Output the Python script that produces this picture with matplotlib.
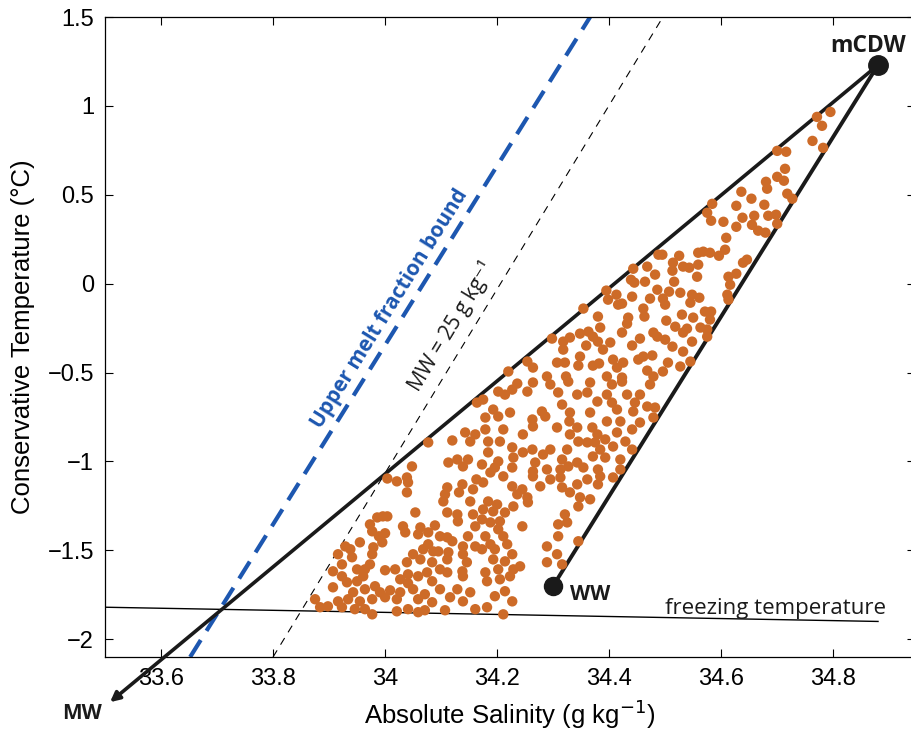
import matplotlib
matplotlib.use("Agg")
import matplotlib.pyplot as plt
import numpy as np

# ---------------- data ----------------
# end members (Absolute Salinity g/kg, Conservative Temperature degC)
mcdw_S, mcdw_T = 34.88, 1.23
ww_S, ww_T = 34.30, -1.70
mw_tip_S, mw_tip_T = 33.509, -2.354

# reference lines: two points each
upper_bound_S = [33.652, 34.366]
upper_bound_T = [-2.10, 1.50]
mw25_S = [33.80, 34.496]
mw25_T = [-2.10, 1.50]
freeze_S = [33.50, 34.88]
freeze_T = [-1.82, -1.90]

xticks = [33.6, 33.8, 34.0, 34.2, 34.4, 34.6, 34.8]
xticklabels = ["33.6", "33.8", "34", "34.2", "34.4", "34.6", "34.8"]
yticks = [-2, -1.5, -1, -0.5, 0, 0.5, 1, 1.5]
yticklabels = ["\u22122", "\u22121.5", "\u22121", "\u22120.5", "0", "0.5", "1", "1.5"]

# observations, upper (warm) part of the triangle
obs_upper = [
    (34.795, 0.966), (34.771, 0.938), (34.780, 0.888), (34.763, 0.803), (34.782, 0.764),
    (34.700, 0.747), (34.716, 0.742), (34.714, 0.646), (34.700, 0.601), (34.712, 0.579),
    (34.680, 0.573), (34.682, 0.534), (34.636, 0.517), (34.718, 0.506), (34.727, 0.478),
    (34.654, 0.478), (34.584, 0.449), (34.627, 0.438), (34.677, 0.444), (34.575, 0.399),
    (34.659, 0.382), (34.638, 0.371), (34.684, 0.382), (34.698, 0.388), (34.582, 0.354),
    (34.604, 0.348), (34.655, 0.331), (34.700, 0.337), (34.627, 0.320), (34.666, 0.298),
    (34.679, 0.287), (34.609, 0.258), (34.607, 0.191), (34.568, 0.180), (34.559, 0.174),
    (34.580, 0.174), (34.596, 0.157), (34.525, 0.157), (34.495, 0.163), (34.646, 0.135),
    (34.639, 0.118), (34.514, 0.118), (34.532, 0.096), (34.543, 0.090), (34.559, 0.107),
    (34.513, 0.073), (34.557, 0.039), (34.613, 0.039), (34.627, 0.056), (34.516, 0.011),
    (34.616, -0.006), (34.507, -0.045), (34.527, -0.051), (34.548, -0.062), (34.561, -0.079),
    (34.611, -0.062), (34.496, -0.084), (34.613, -0.090), (34.545, -0.107), (34.500, -0.118),
    (34.571, -0.157), (34.582, -0.157), (34.530, -0.174), (34.550, -0.191), (34.502, -0.208),
    (34.580, -0.202), (34.518, -0.242), (34.539, -0.253), (34.563, -0.247), (34.575, -0.258),
    (34.532, -0.275), (34.575, -0.298), (34.500, -0.315), (34.548, -0.326), (34.513, -0.354),
    (34.532, -0.382), (34.505, -0.444), (34.545, -0.438), (34.527, -0.466), (34.496, -0.494),
]

obs_middle = [
    (34.488, 0.163), (34.443, 0.084), (34.468, 0.096), (34.482, 0.051), (34.439, 0.022),
    (34.445, 0.006), (34.464, 0.011), (34.486, -0.034), (34.395, -0.039), (34.413, -0.062),
    (34.441, -0.073), (34.473, -0.084), (34.398, -0.090), (34.416, -0.118), (34.354, -0.140),
    (34.461, -0.140), (34.423, -0.112), (34.463, -0.185), (34.380, -0.185), (34.434, -0.191),
    (34.432, -0.225), (34.384, -0.247), (34.479, -0.275), (34.348, -0.281), (34.363, -0.270),
    (34.423, -0.275), (34.298, -0.309), (34.330, -0.303), (34.371, -0.298), (34.455, -0.309),
    (34.486, -0.298), (34.318, -0.326), (34.359, -0.348), (34.380, -0.326), (34.402, -0.331),
    (34.441, -0.348), (34.389, -0.371), (34.318, -0.371), (34.461, -0.410), (34.348, -0.410),
    (34.407, -0.427), (34.477, -0.404), (34.254, -0.438), (34.307, -0.444), (34.321, -0.444),
    (34.264, -0.472), (34.345, -0.461), (34.371, -0.461), (34.425, -0.444), (34.452, -0.427),
    (34.382, -0.449), (34.414, -0.472), (34.468, -0.489), (34.220, -0.494), (34.289, -0.522),
    (34.323, -0.522), (34.396, -0.522), (34.423, -0.528), (34.479, -0.522),
]

obs_lower_left = [
    (34.164, -0.669), (34.143, -0.837), (34.161, -0.848), (34.152, -0.888), (34.120, -0.882),
    (34.077, -0.893), (34.129, -0.989), (34.148, -0.989), (34.113, -1.006), (34.139, -1.028),
    (34.048, -1.028), (34.163, -1.101), (34.004, -1.096), (34.021, -1.112), (34.039, -1.090),
    (34.041, -1.118), (34.138, -1.129), (34.111, -1.146), (34.039, -1.174), (34.107, -1.185),
    (34.157, -1.157), (34.132, -1.174), (34.104, -1.225), (34.152, -1.225), (34.054, -1.287),
    (34.111, -1.287), (34.129, -1.298), (33.996, -1.309), (33.986, -1.315), (34.004, -1.309),
    (34.157, -1.298), (34.130, -1.337), (33.973, -1.354), (34.032, -1.365), (34.089, -1.360),
    (34.063, -1.371), (34.161, -1.365), (33.977, -1.393), (34.000, -1.404), (34.036, -1.399),
    (34.077, -1.399), (33.989, -1.421), (34.059, -1.410), (34.098, -1.421), (34.148, -1.421),
    (34.111, -1.427), (34.120, -1.449), (33.929, -1.478), (33.955, -1.455), (33.995, -1.455),
    (34.077, -1.466), (34.161, -1.478), (34.139, -1.478), (33.938, -1.494), (33.979, -1.483),
    (34.068, -1.494), (34.086, -1.506), (34.095, -1.506), (33.977, -1.522), (34.113, -1.511),
    (33.916, -1.522), (34.050, -1.522), (33.941, -1.539), (34.139, -1.522), (34.111, -1.551),
    (34.063, -1.551), (34.039, -1.567), (34.146, -1.567), (33.923, -1.579), (33.973, -1.579),
    (34.084, -1.567), (33.950, -1.607), (33.964, -1.607), (34.000, -1.612), (34.018, -1.607),
    (34.098, -1.607), (34.138, -1.618), (33.907, -1.618), (34.111, -1.624), (34.075, -1.624),
    (34.041, -1.635), (33.961, -1.646), (33.923, -1.646), (34.139, -1.646), (34.059, -1.646),
    (34.027, -1.663), (34.084, -1.674), (33.950, -1.674), (33.932, -1.680), (33.982, -1.702),
    (33.907, -1.708), (34.041, -1.685), (34.009, -1.725), (33.964, -1.719), (34.098, -1.719),
    (34.050, -1.719), (34.129, -1.719), (33.943, -1.736), (33.991, -1.736), (34.027, -1.736),
    (34.071, -1.747), (34.152, -1.736), (33.875, -1.775), (33.916, -1.787), (33.934, -1.775),
    (33.955, -1.787), (33.977, -1.775), (34.000, -1.764), (34.021, -1.775), (34.059, -1.775),
    (34.116, -1.764), (34.139, -1.787), (34.084, -1.792), (33.884, -1.820), (33.898, -1.815),
    (33.923, -1.820), (33.946, -1.831), (33.964, -1.831), (34.021, -1.843), (34.041, -1.831),
    (34.059, -1.848), (34.071, -1.837), (33.977, -1.860), (34.107, -1.837), (34.161, -1.831),
]

obs_lower_right = [
    (34.236, -0.562), (34.264, -0.556), (34.295, -0.567), (34.327, -0.551), (34.366, -0.556),
    (34.405, -0.567), (34.423, -0.551), (34.473, -0.567), (34.214, -0.624), (34.227, -0.596),
    (34.202, -0.607), (34.254, -0.607), (34.309, -0.612), (34.343, -0.624), (34.361, -0.612),
    (34.396, -0.624), (34.432, -0.624), (34.455, -0.624), (34.175, -0.652), (34.316, -0.680),
    (34.379, -0.663), (34.405, -0.669), (34.446, -0.669), (34.482, -0.697), (34.193, -0.708),
    (34.223, -0.725), (34.280, -0.719), (34.330, -0.725), (34.366, -0.725), (34.414, -0.708),
    (34.443, -0.719), (34.468, -0.691), (34.179, -0.753), (34.202, -0.747), (34.263, -0.764),
    (34.286, -0.747), (34.329, -0.775), (34.396, -0.775), (34.420, -0.775), (34.479, -0.753),
    (34.307, -0.809), (34.343, -0.809), (34.370, -0.809), (34.455, -0.781), (34.179, -0.820),
    (34.211, -0.820), (34.246, -0.848), (34.264, -0.803), (34.330, -0.848), (34.379, -0.848),
    (34.393, -0.876), (34.414, -0.837), (34.441, -0.820), (34.184, -0.888), (34.205, -0.888),
    (34.345, -0.888), (34.361, -0.893), (34.375, -0.893), (34.429, -0.888), (34.227, -0.921),
    (34.295, -0.933), (34.325, -0.933), (34.384, -0.933), (34.407, -0.916), (34.441, -0.933),
    (34.184, -0.949), (34.246, -0.949), (34.263, -0.933), (34.282, -0.961), (34.371, -0.972),
    (34.393, -0.978), (34.316, -0.989), (34.202, -1.000), (34.229, -0.978), (34.268, -1.006),
    (34.343, -1.006), (34.420, -0.989), (34.173, -1.017), (34.196, -1.034), (34.227, -1.034),
    (34.327, -1.028), (34.354, -1.034), (34.380, -1.045), (34.420, -1.045), (34.264, -1.056),
    (34.289, -1.045), (34.313, -1.045), (34.211, -1.084), (34.188, -1.062), (34.264, -1.084),
    (34.295, -1.101), (34.313, -1.090), (34.361, -1.101), (34.384, -1.084), (34.407, -1.090),
    (34.175, -1.118), (34.227, -1.140), (34.245, -1.157), (34.277, -1.140), (34.316, -1.146),
    (34.343, -1.129), (34.380, -1.129), (34.330, -1.174), (34.236, -1.185), (34.254, -1.202),
    (34.184, -1.225), (34.200, -1.242), (34.348, -1.202), (34.366, -1.213), (34.229, -1.253),
    (34.255, -1.230), (34.175, -1.270), (34.193, -1.281), (34.214, -1.287), (34.345, -1.253),
    (34.321, -1.298), (34.173, -1.326), (34.188, -1.343), (34.205, -1.337), (34.245, -1.365),
    (34.309, -1.354), (34.325, -1.343), (34.202, -1.382), (34.179, -1.421), (34.211, -1.421),
    (34.309, -1.421), (34.188, -1.466), (34.218, -1.466), (34.173, -1.494), (34.196, -1.494),
    (34.289, -1.478), (34.345, -1.449), (34.227, -1.522), (34.193, -1.551), (34.214, -1.562),
    (34.241, -1.590), (34.307, -1.522), (34.289, -1.567), (34.316, -1.579), (34.179, -1.624),
    (34.202, -1.607), (34.229, -1.607), (34.182, -1.674), (34.205, -1.663), (34.223, -1.646),
    (34.214, -1.730), (34.196, -1.758), (34.227, -1.787), (34.182, -1.820), (34.211, -1.860),
]

# ---------------- figure ----------------
W, H = 912, 731
fig = plt.figure(figsize=(W / 100, H / 100), dpi=100)
ax = fig.add_axes([105 / W, 1 - 657 / H, (915 - 105) / W, (657 - 17) / H])
ax.set_xlim(33.5, 34.946)
ax.set_ylim(-2.1, 1.5)

tick_font = "Liberation Sans"
ann_font = ["Open Sans", "DejaVu Sans"]

# freezing line
ax.plot(freeze_S, freeze_T, color="black", lw=1.0, zorder=2)
# melt water 25 g/kg line
ax.plot(mw25_S, mw25_T, color="black", lw=0.8, dashes=(7, 6), zorder=2)
# upper melt fraction bound
ax.plot(upper_bound_S, upper_bound_T, color="#1d57b0", lw=3.0, dashes=(4.8, 2.6), zorder=2)

# mixing lines
ax.plot([mcdw_S, ww_S], [mcdw_T, ww_T], color="#1a1a1a", lw=2.8, zorder=3,
        solid_capstyle="round")
ax.annotate("", xy=(mw_tip_S, mw_tip_T), xytext=(mcdw_S, mcdw_T),
            arrowprops=dict(arrowstyle="-|>", color="#1a1a1a", lw=2.6,
                            mutation_scale=14, shrinkA=0, shrinkB=0),
            annotation_clip=False, zorder=3)

# observations
obs = obs_upper + obs_middle + obs_lower_left + obs_lower_right
obs_S = [p[0] for p in obs]
obs_T = [p[1] for p in obs]
ax.scatter(obs_S, obs_T, s=56, color="#cd6b28", edgecolors="none", zorder=4)

# end members
ax.plot([mcdw_S], [mcdw_T], "o", color="#1a1a1a", ms=14, zorder=5)
ax.plot([ww_S], [ww_T], "o", color="#1a1a1a", ms=13, zorder=5)

# annotations
ax.text(34.863, 1.303, "mCDW", fontsize=16.5, fontweight="bold", family=ann_font,
        ha="center", va="baseline", color="#1a1a1a")
ax.text(34.330, -1.781, "WW", fontsize=15, fontweight="bold", family=ann_font,
        ha="left", va="baseline", color="#1a1a1a")
ax.text(33.423, -2.449, "MW", fontsize=15, fontweight="bold", family=ann_font,
        ha="left", va="baseline", color="#1a1a1a", clip_on=False)
ax.text(34.50, -1.86, "freezing temperature", fontsize=16, family=ann_font,
        ha="left", va="baseline", color="#1a1a1a")

fig.canvas.draw()
def screen_angle(Sx, Ty):
    p = ax.transData.transform(np.column_stack([Sx, Ty]))
    return np.degrees(np.arctan2(p[1, 1] - p[0, 1], p[1, 0] - p[0, 0]))

ax.text(34.008, -0.140, "Upper melt fraction bound", fontsize=15, fontweight="bold",
        family=ann_font, color="#1d57b0", rotation=screen_angle(upper_bound_S, upper_bound_T),
        rotation_mode="anchor", ha="center", va="center")
ax.text(34.118, -0.242, "MW = 25 g kg\u207b\u00b9", fontsize=15, family=ann_font,
        color="#1a1a1a", rotation=screen_angle(mw25_S, mw25_T),
        rotation_mode="anchor", ha="center", va="center")

# axes styling (MATLAB-like)
ax.set_xticks(xticks)
ax.set_xticklabels(xticklabels, fontsize=17, family=tick_font)
ax.set_yticks(yticks)
ax.set_yticklabels(yticklabels, fontsize=17, family=tick_font)
ax.tick_params(direction="in", length=5.5, width=0.8, top=True, right=True, pad=8)
for sp in ax.spines.values():
    sp.set_linewidth(0.9)
ax.spines["right"].set_visible(False)

ax.set_xlabel("Absolute Salinity (g kg$^{-1}$)", fontsize=18.5, family=tick_font, labelpad=5)
ax.set_ylabel("Conservative Temperature (\u00b0C)", fontsize=18.5, family=tick_font, labelpad=9)

fig.savefig("out.png", dpi=100)
